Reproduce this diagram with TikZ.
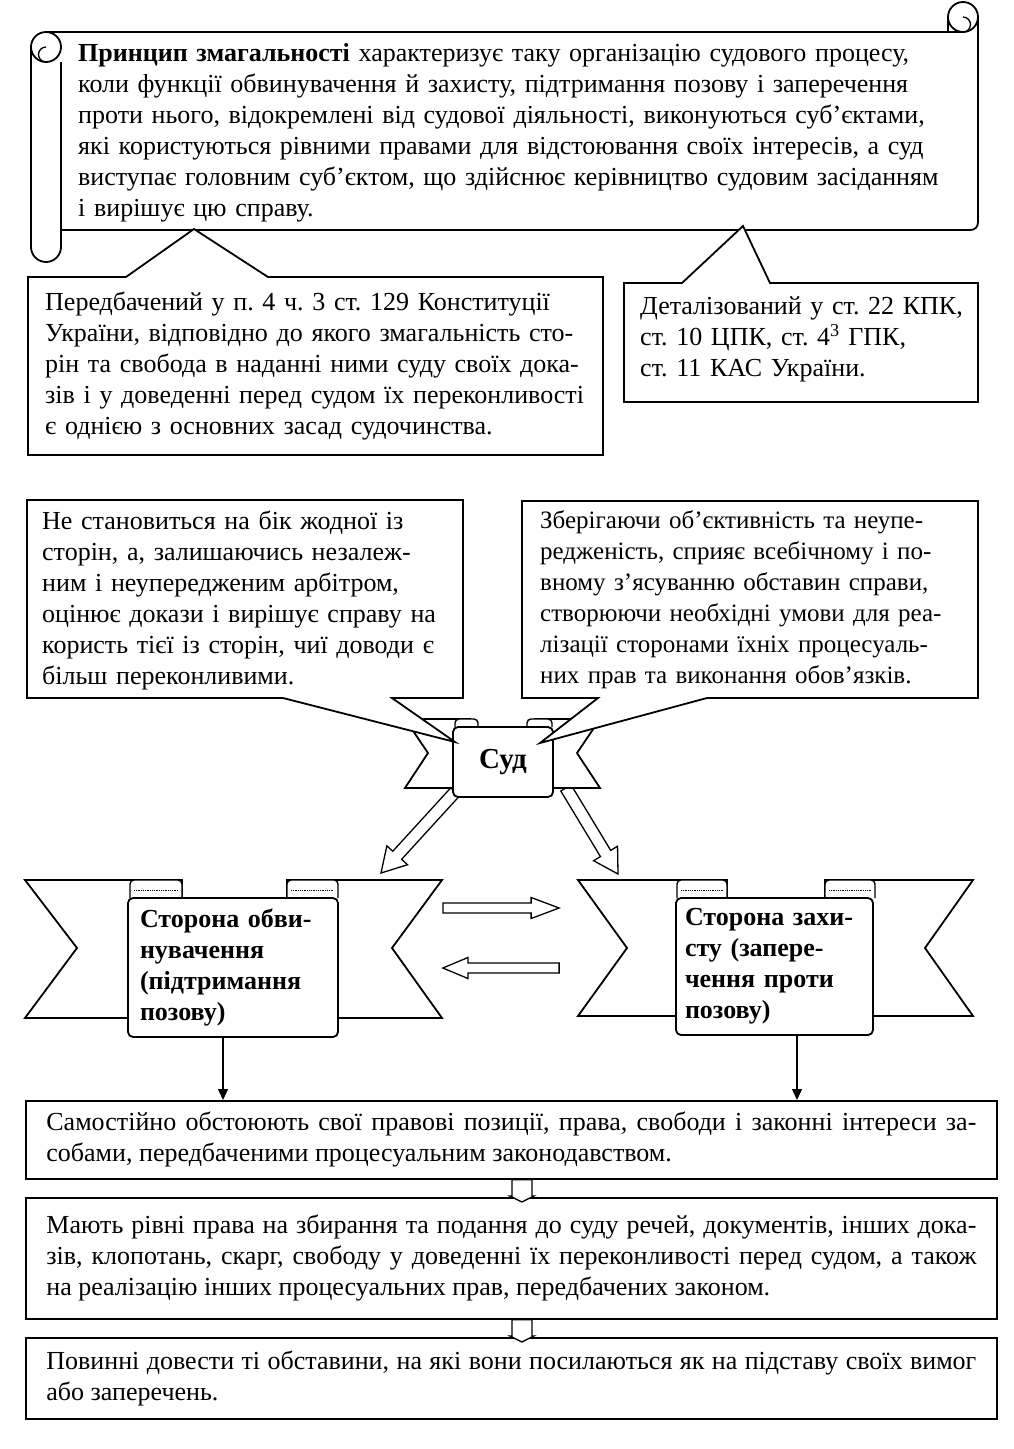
\documentclass[tikz,border=0pt]{standalone}
\usepackage{fontspec}
\setmainfont{Liberation Serif}
\usetikzlibrary{calc,arrows.meta}
\pgfdeclarelayer{bg}
\pgfsetlayers{bg,main}
\frenchspacing
\newcommand\hollowarr[5]{%
  \coordinate (hbase) at ($(#2)!#5!(#1)$);
  \draw[harrow] ($(#1)!#3!90:(#2)$) -- ($(hbase)!#3!90:(#2)$) -- ($(hbase)!#4!90:(#2)$) -- (#2) -- ($(hbase)!#4!-90:(#2)$) -- ($(hbase)!#3!-90:(#2)$) -- ($(#1)!#3!-90:(#2)$) -- cycle;}
\begin{document}
\begin{tikzpicture}[x=1pt,y=-1pt,line join=miter,
  outl/.style={draw=black,line width=1.8pt,fill=white},
  fineline/.style={draw=black,line width=1.3pt},
  txt/.style={inner sep=0pt,anchor=west,align=left,font=\fontsize{26}{31}\selectfont},
  harrow/.style={draw=black,line width=1.3pt,fill=white},
  panel/.style={draw=black,line width=1.8pt,fill=white,rounded corners=5pt,inner ysep=0pt,align=left,font=\fontsize{26}{31}\selectfont\bfseries},
  tabshape/.style={draw=black,line width=1.4pt,fill=white,rounded corners=4pt},
  bbox/.style={draw=black,line width=1.8pt,fill=white,anchor=north west,inner xsep=20.5pt,inner ysep=0pt,minimum width=971pt,align=justify,text width=930pt,font=\fontsize{26}{31}\selectfont},
  vconn/.style={line width=1.4pt,-{Triangle[length=11pt,width=10pt]}}
]
\useasboundingbox (0,0) rectangle (1014,1449);
\begin{pgfonlayer}{bg}
\fill[white] (0,0) rectangle (1014,1449);
\end{pgfonlayer}

% ---------- scroll ----------
\draw[outl,fill=none] (46,32) -- (963,32);
\draw[outl,fill=none] (61,62) -- (61,230) -- (970,230) .. controls (975,230) and (978,227) .. (978,222) -- (978,17);
\draw[outl] (963,17) circle[radius=15];
\draw[fineline] (963,32) arc[start angle=90,end angle=-90,radius=7.5];
\draw[fineline] (948,17) -- (948,32);
\draw[outl,fill=none] (31,47) -- (31,247) arc[start angle=180,end angle=0,radius=15] -- (61,62);
\draw[outl] (46,47) circle[radius=15];
\draw[fineline] (46,47) arc[start angle=270,end angle=90,radius=7.5];
\node[txt,text width=890pt] (scroll) at (78,133) {\textbf{Принцип змагальності} характеризує таку організацію судового процесу,\\
коли функції обвинувачення й захисту, підтримання позову і заперечення\\
проти нього, відокремлені від судової діяльності, виконуються суб’єктами,\\
які користуються рівними правами для відстоювання своїх інтересів, а суд\\
виступає головним суб’єктом, що здійснює керівництво судовим засіданням\\
і вирішує цю справу.};

% ---------- callouts under the scroll ----------
\draw[outl] (28,277) -- (126,277) -- (194,229) -- (268,277) -- (603,277) -- (603,455) -- (28,455) -- cycle;
\node[txt,text width=555pt] (b1) at (45,366) {Передбачений у п. 4 ч. 3 ст. 129 Конституції\\
України, відповідно до якого змагальність сто-\\
рін та свобода в наданні ними суду своїх дока-\\
зів і у доведенні перед судом їх переконливості\\
є однією з основних засад судочинства.};
\draw[outl] (624,283) -- (682,283) -- (743,226) -- (770,283) -- (978,283) -- (978,402) -- (624,402) -- cycle;
\node[txt,text width=335pt] (b2) at (640,339) {Деталізований у ст. 22 КПК,\\
ст. 10 ЦПК, ст. 4\textsuperscript{3} ГПК,\\
ст. 11 КАС України.};

% ---------- Суд ribbon ----------
\draw[outl] (455,788) -- (405,788) -- (428,753) -- (405,719) -- (470,719) -- (470,732) -- cycle;
\draw[outl] (551,788) -- (600,788) -- (577,753) -- (600,719) -- (535,719) -- (535,732) -- cycle;
\draw[tabshape] (455,727) -- (455,719) -- (478,719) -- (478,727);
\draw[tabshape] (527,727) -- (527,719) -- (552,719) -- (552,727);
\node[panel,minimum width=100pt,minimum height=70pt,font=\fontsize{29}{34}\selectfont\bfseries] (sud) at (503,762) {Суд};

% ---------- callouts above Суд ----------
\draw[outl] (27,500) -- (463,500) -- (463,698) -- (392,698) -- (455,742) -- (283,698) -- (27,698) -- cycle;
\node[txt,text width=420pt] (b3) at (42,600) {Не становиться на бік жодної із\\
сторін, а, залишаючись незалеж-\\
ним і неупередженим арбітром,\\
оцінює докази і вирішує справу на\\
користь тієї із сторін, чиї доводи є\\
більш переконливими.};
\draw[outl] (522,501) -- (978,501) -- (978,698) -- (707,698) -- (540,743) -- (598,698) -- (522,698) -- cycle;
\node[txt,text width=435pt,font=\fontsize{25}{31}\selectfont] (b4) at (540,600) {Зберігаючи об’єктивність та неупе-\\
редженість, сприяє всебічному і по-\\
вному з’ясуванню обставин справи,\\
створюючи необхідні умови для реа-\\
лізації сторонами їхніх процесуаль-\\
них прав та виконання обов’язків.};

% ---------- left party ribbon ----------
\draw[outl] (130,1018) -- (25,1018) -- (77,948) -- (25,880) -- (182,880) -- (182,900) -- cycle;
\draw[outl] (336,1018) -- (442,1018) -- (392,948) -- (442,880) -- (287,880) -- (287,900) -- cycle;
\draw[tabshape] (130,898) -- (130,880) -- (182,880) -- (182,898);
\draw[densely dotted,line width=0.8pt] (134,890) -- (178,890);
\draw[tabshape] (287,898) -- (287,880) -- (338,880) -- (338,898);
\draw[densely dotted,line width=0.8pt] (291,890) -- (334,890);
\node[panel,inner xsep=12pt,text width=186pt,minimum width=210pt,minimum height=139pt] (pL) at (233,967.5) {Сторона обви-\\нувачення\\(підтримання\\позову)};

% ---------- right party ribbon ----------
\draw[outl] (678,1016) -- (578,1016) -- (627,948) -- (578,880) -- (727,880) -- (727,900) -- cycle;
\draw[outl] (871,1016) -- (973,1016) -- (925,948) -- (973,880) -- (825,880) -- (825,900) -- cycle;
\draw[tabshape] (677,898) -- (677,880) -- (727,880) -- (727,898);
\draw[densely dotted,line width=0.8pt] (681,890) -- (723,890);
\draw[tabshape] (825,898) -- (825,880) -- (875,880) -- (875,898);
\draw[densely dotted,line width=0.8pt] (829,890) -- (871,890);
\node[panel,inner xsep=9pt,text width=179pt,minimum width=197pt,minimum height=137pt] (pR) at (774.5,966.5) {Сторона захи-\\сту (запере-\\чення проти\\позову)};

% ---------- bottom boxes ----------
\node[bbox,minimum height=78pt] (b5) at (25,1100) {Самостійно обстоюють свої правові позиції, права, свободи і законні інтереси за-\linebreak
собами, передбаченими процесуальним законодавством.};
\node[bbox,minimum height=121pt] (b6) at (25,1197) {Мають рівні права на збирання та подання до суду речей, документів, інших дока-\linebreak
зів, клопотань, скарг, свободу у доведенні їх переконливості перед судом, а також\linebreak
на реалізацію інших процесуальних прав, передбачених законом.};
\node[bbox,minimum height=81pt] (b7) at (25,1337) {Повинні довести ті обставини, на які вони посилаються як на підставу своїх вимог\linebreak
або заперечень.};

% ---------- connectors ----------
\begin{pgfonlayer}{bg}
\coordinate (a1s) at ($(sud.south west)+(3,-6)$);
\coordinate (a1e) at (381,873);
\hollowarr{a1s}{a1e}{6pt}{14pt}{24pt}
\coordinate (a2s) at ($(sud.south east)+(12,-10)$);
\coordinate (a2e) at (618,874);
\hollowarr{a2s}{a2e}{6pt}{14pt}{24pt}
\end{pgfonlayer}
\coordinate (h1s) at ($(pL.east)+(104,-59.5)$);
\coordinate (h1e) at ($(pR.west)+(-116,-58.5)$);
\hollowarr{h1s}{h1e}{5pt}{10.5pt}{28pt}
\coordinate (h2s) at ($(pR.west)+(-116,1.5)$);
\coordinate (h2e) at ($(pL.east)+(104,0.5)$);
\hollowarr{h2s}{h2e}{5pt}{10.5pt}{25pt}
\draw[vconn] ([xshift=-10pt]pL.south) -- ([xshift=-10pt]pL.south |- b5.north);
\draw[vconn] ([xshift=22.5pt]pR.south) -- ([xshift=22.5pt]pR.south |- b5.north);
\coordinate (d1s) at ([xshift=10.5pt]b5.south);
\coordinate (d1e) at ($([xshift=10.5pt]b6.north)+(0,5)$);
\hollowarr{d1s}{d1e}{10pt}{12pt}{6pt}
\coordinate (d2s) at ([xshift=10.5pt]b6.south);
\coordinate (d2e) at ($([xshift=10.5pt]b7.north)+(0,5)$);
\hollowarr{d2s}{d2e}{10pt}{12pt}{6pt}
\end{tikzpicture}
\end{document}
